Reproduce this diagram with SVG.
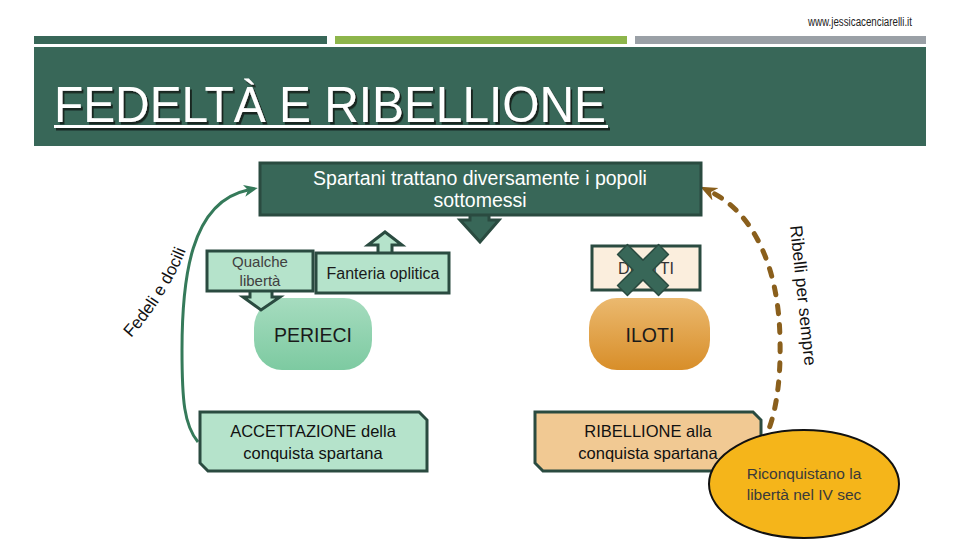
<svg xmlns="http://www.w3.org/2000/svg" width="960" height="540" viewBox="0 0 960 540">
<style>
.t{font-family:"Liberation Sans",Arial,sans-serif}
.mint{fill:#b5e3cb;stroke:#2a4b40;stroke-width:3;stroke-linejoin:miter}
.dk{fill:#386758;stroke:#2a4b40;stroke-width:3}
.lbl{font-size:16.5px;fill:#111;text-anchor:middle}
.sm{font-size:15px;fill:#404040;text-anchor:middle}
</style>
<defs>
<linearGradient id="gPer" x1="0" y1="0" x2="0" y2="1">
<stop offset="0" stop-color="#a6dcbf"/><stop offset="1" stop-color="#7dcaa1"/>
</linearGradient>
<linearGradient id="gIlo" x1="0" y1="0" x2="0" y2="1">
<stop offset="0" stop-color="#ebb96f"/><stop offset="1" stop-color="#d88e29"/>
</linearGradient>
<filter id="sh" x="-5%" y="-20%" width="110%" height="140%">
<feDropShadow dx="2" dy="2.5" stdDeviation="0.6" flood-color="#15241f" flood-opacity="0.95"/>
</filter>
<marker id="ahG" markerUnits="userSpaceOnUse" markerWidth="16" markerHeight="14" refX="4" refY="7" orient="auto">
<path d="M0,1 L14,7 L0,13 L4,7 Z" fill="#357a5a"/>
</marker>
<marker id="ahB" markerUnits="userSpaceOnUse" markerWidth="18" markerHeight="16" refX="5" refY="8" orient="auto">
<path d="M0,1 L17,8 L0,15 L5,8 Z" fill="#8a5f1c"/>
</marker>
</defs>
<rect width="960" height="540" fill="#ffffff"/>
<g id="header">
<text class="t" x="808" y="26" font-size="12" textLength="104" lengthAdjust="spacingAndGlyphs" fill="#222">www.jessicacenciarelli.it</text>
<rect x="34" y="36" width="293" height="8" fill="#386758"/>
<rect x="335" y="36" width="292" height="8" fill="#8db54b"/>
<rect x="635" y="36" width="291" height="8" fill="#9aa0a6"/>
<rect x="34" y="47" width="892" height="99" fill="#386758"/>
<g filter="url(#sh)">
<text class="t" x="54" y="122" font-size="50" textLength="552" lengthAdjust="spacingAndGlyphs" fill="#ffffff">FEDELTÀ E RIBELLIONE</text>
<rect x="54" y="125" width="554" height="3" fill="#ffffff"/>
</g>
</g>
<g id="connectors">
<path id="cG" d="M198 442 C184 425 182 400 182 350 C182 280 190 202 248 190" fill="none" stroke="#357a5a" stroke-width="3" marker-end="url(#ahG)"/>
<path id="cB" d="M762 444 C776 420 781 380 780 340 C779 265 752 212 711 192" fill="none" stroke="#8a5f1c" stroke-width="5" stroke-dasharray="8 11" stroke-linecap="round" marker-end="url(#ahB)"/>
<path id="pFed" d="M131 338 Q168 297 188 245" fill="none"/>
<text class="t" font-size="17" fill="#111"><textPath href="#pFed">Fedeli e docili</textPath></text>
<text class="t" font-size="17.5" fill="#111" transform="translate(790,226) rotate(84)">Ribelli per sempre</text>
</g>
<g id="node-spartani">
<polygon class="dk" points="470,214 489,214 489,220 499,220 480,242 460,220 470,220"/>
<rect class="dk" x="260" y="163" width="441" height="52"/>
<text class="t" x="480" y="185" font-size="19.5" fill="#ffffff" text-anchor="middle">Spartani trattano diversamente i popoli</text>
<text class="t" x="480" y="207" font-size="19.5" fill="#ffffff" text-anchor="middle">sottomessi</text>
</g>
<g id="node-perieci">
<rect x="254" y="298" width="118" height="72" rx="28" ry="30" fill="url(#gPer)"/>
<text class="t" x="313" y="342" font-size="19.5" fill="#1a1a1a" text-anchor="middle">PERIECI</text>
</g>
<g id="node-qualche">
<polygon class="mint" points="250,290 272,290 272,297 280,297 261,310 243,297 250,297"/>
<rect class="mint" x="207" y="251" width="106" height="40"/>
<text class="t sm" x="260" y="267">Qualche</text>
<text class="t sm" x="260" y="286">libertà</text>
</g>
<g id="node-fanteria">
<polygon class="mint" points="378,254 378,245 368,245 385,232 402,245 392,245 392,254"/>
<rect class="mint" x="316" y="253" width="133" height="40"/>
<text class="t" x="383" y="279" font-size="16" fill="#1a1a1a" text-anchor="middle">Fanteria oplitica</text>
</g>
<g id="node-iloti">
<rect x="589" y="298" width="121" height="72" rx="28" ry="30" fill="url(#gIlo)"/>
<text class="t" x="650" y="342" font-size="19.5" fill="#1a1a1a" text-anchor="middle">ILOTI</text>
</g>
<g id="node-diritti">
<rect x="592" y="246" width="108" height="44" fill="#fbeedd" stroke="#2a4b40" stroke-width="3"/>
<text class="t" x="646" y="274" font-size="16" fill="#333" text-anchor="middle">DIRITTI</text>
<polygon transform="translate(643,270) rotate(45)" points="7,-29 7,-7 29,-7 29,7 7,7 7,29 -7,29 -7,7 -29,7 -29,-7 -7,-7 -7,-29" fill="#386758" stroke="#2a4b40" stroke-width="1.5" stroke-linejoin="round"/>
</g>
<g id="node-accettazione">
<path class="mint" d="M200 412 H419 L427 420 V471 H208 L200 463 Z"/>
<text class="t lbl" x="313" y="437">ACCETTAZIONE della</text>
<text class="t lbl" x="313" y="459">conquista spartana</text>
</g>
<g id="node-ribellione">
<path d="M535 412 H753 L761 420 V471 H543 L535 463 Z" fill="#f1c993" stroke="#2a4b40" stroke-width="3"/>
<text class="t lbl" x="648" y="437">RIBELLIONE alla</text>
<text class="t lbl" x="648" y="459">conquista spartana</text>
</g>
<g id="node-riconquista">
<ellipse cx="804" cy="484" rx="95" ry="54" fill="#f5b51a" stroke="#111" stroke-width="2"/>
<text class="t" x="804" y="479" font-size="15.5" fill="#3a3a3a" text-anchor="middle">Riconquistano la</text>
<text class="t" x="804" y="500" font-size="15.5" fill="#3a3a3a" text-anchor="middle">libertà nel IV sec</text>
</g>
</svg>
